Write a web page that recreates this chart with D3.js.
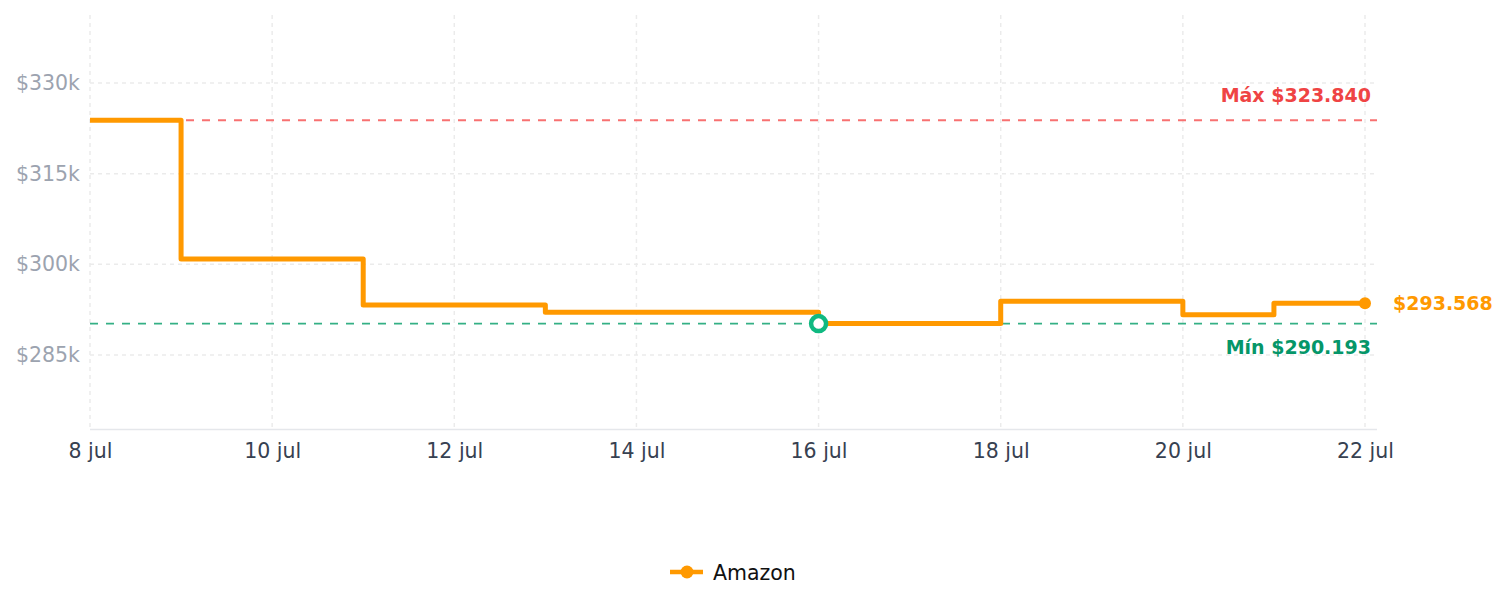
<!DOCTYPE html>
<html><head><meta charset="utf-8">
<script src="https://cdn.jsdelivr.net/npm/d3@7"></script>
<style>body{margin:0;background:#fff}svg{display:block;font-family:"DejaVu Sans",sans-serif}</style>
</head><body><svg id="c" width="1505" height="607"></svg>
<script>
const days = [8,9,10,11,12,13,14,15,16,17,18,19,20,21,22];
const prices = [323840,300900,300900,293270,293270,292060,292060,292060,290193,290193,293880,293880,291670,293568,293568];
const seriesName = "Amazon";
const xTickDays = [8,10,12,14,16,18,20,22];
const yTicks = [285000,300000,315000,330000];
const monthLabel = "jul";
const maxLabel = "Máx $323.840";
const minLabel = "Mín $290.193";
const lastLabel = "$293.568";

const svg = d3.select("#c");
const toDate = d => new Date(2024, 6, d);
const x = d3.scaleTime().domain([toDate(8), toDate(22)]).range([90, 1365]);
const y = d3.scaleLinear().domain([272756, 341250]).range([429, 15]);
const xRight = 1377;
const data = days.map((d,i)=>({date:toDate(d), v:prices[i]}));

// grid
const g = svg.append("g");
g.selectAll(".hg").data(yTicks).join("line")
  .attr("x1",90).attr("x2",1375).attr("y1",d=>y(d)).attr("y2",d=>y(d))
  .attr("stroke","#ebebeb").attr("stroke-width",1.5).attr("stroke-dasharray","4,4");
g.selectAll(".vg").data(xTickDays).join("line")
  .attr("x1",d=>x(toDate(d))).attr("x2",d=>x(toDate(d))).attr("y1",15).attr("y2",429)
  .attr("stroke","#ebebeb").attr("stroke-width",1.5).attr("stroke-dasharray","4,4");

// axes
const xAxis = d3.axisBottom(x).tickValues(xTickDays.map(toDate))
  .tickFormat(d=>d.getDate()+" "+monthLabel).tickSize(0).tickPadding(14);
const xa = svg.append("g").attr("transform","translate(0,429)").call(xAxis);
xa.select(".domain").remove();
xa.selectAll("text").attr("fill","#374151").attr("font-size","20.5px").attr("font-family","DejaVu Sans");
svg.append("line").attr("x1",90).attr("x2",xRight).attr("y1",429.5).attr("y2",429.5).attr("stroke","#e5e7eb").attr("stroke-width",1.5);

const yAxis = d3.axisLeft(y).tickValues(yTicks).tickFormat(d=>"$"+(d/1000)+"k").tickSize(0).tickPadding(10);
const ya = svg.append("g").attr("transform","translate(90,0)").call(yAxis);
ya.select(".domain").remove();
ya.selectAll("text").attr("fill","#9ca3af").attr("font-size","20.5px").attr("font-family","DejaVu Sans");

// reference lines
const vMax = d3.max(prices), vMin = d3.min(prices);
svg.append("line").attr("x1",90).attr("x2",xRight).attr("y1",y(vMax)).attr("y2",y(vMax))
  .attr("stroke","#f87171").attr("stroke-width",1.8).attr("stroke-dasharray","8,8");
svg.append("line").attr("x1",90).attr("x2",xRight).attr("y1",y(vMin)).attr("y2",y(vMin))
  .attr("stroke","#34b085").attr("stroke-width",1.8).attr("stroke-dasharray","8,8");
svg.append("text").attr("x",1371).attr("y",y(vMax)-24.5).attr("dy","0.35em").attr("text-anchor","end")
  .attr("fill","#ef4444").attr("font-weight","bold").attr("font-size","19px").text(maxLabel);
svg.append("text").attr("x",1371).attr("y",y(vMin)+23.5).attr("dy","0.35em").attr("text-anchor","end")
  .attr("fill","#059669").attr("font-weight","bold").attr("font-size","19px").text(minLabel);

// line
const line = d3.line().x(d=>x(d.date)).y(d=>y(d.v)).curve(d3.curveStepAfter);
svg.append("path").datum(data).attr("d",line).attr("fill","none")
  .attr("stroke","#ff9900").attr("stroke-width",5).attr("stroke-linejoin","round");

// last point
const last = data[data.length-1];
svg.append("circle").attr("cx",x(last.date)).attr("cy",y(last.v)).attr("r",6).attr("fill","#ff9900");
svg.append("text").attr("x",x(last.date)+28).attr("y",y(last.v)).attr("dy","0.35em")
  .attr("fill","#ff9900").attr("font-weight","bold").attr("font-size","19px").text(lastLabel);

// min marker
const minPt = data.find(d=>d.v===vMin);
svg.append("circle").attr("cx",x(minPt.date)).attr("cy",y(minPt.v)).attr("r",7.5)
  .attr("fill","#fff").attr("stroke","#10b981").attr("stroke-width",4.5);

// legend
const lg = svg.append("g").attr("transform","translate(670,572)");
lg.append("line").attr("x1",0).attr("x2",33).attr("y1",0).attr("y2",0).attr("stroke","#ff9900").attr("stroke-width",4.5);
lg.append("circle").attr("cx",17).attr("cy",0).attr("r",6.5).attr("fill","#ff9900");
lg.append("text").attr("x",43).attr("y",1).attr("dy","0.35em").attr("font-size","20.5px").attr("fill","#111").text(seriesName);
</script></body></html>
